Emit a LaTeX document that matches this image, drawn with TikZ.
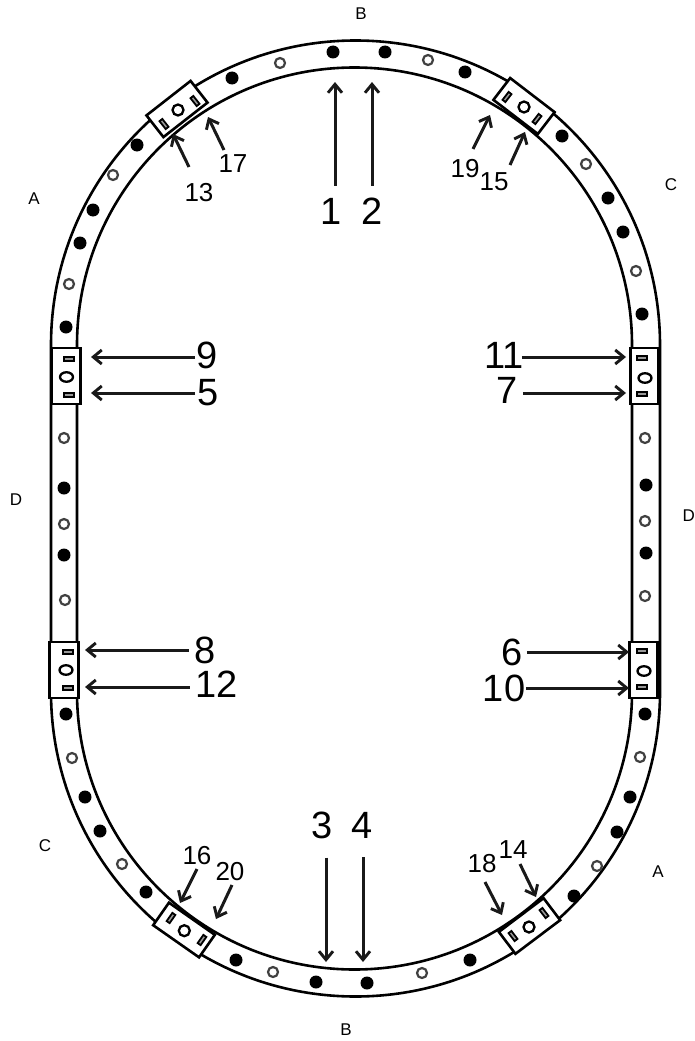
\documentclass[tikz,border=0pt]{standalone}
\usepackage{fontspec}
\setmainfont{Liberation Sans}
\usetikzlibrary{arrows.meta,shapes.geometric}
\tikzset{
  rail/.style={line width=2.6pt,black},
  seg/.style={draw=black,fill=white,line width=2.6pt,rectangle,inner sep=0pt,minimum width=56pt,minimum height=27.5pt},
  slot/.style={draw=black,fill=black!40,line width=1.8pt,rectangle,inner sep=0pt,minimum width=10pt,minimum height=3.6pt},
  hole/.style={draw=black,fill=white,line width=2.3pt,ellipse,inner sep=0pt,minimum width=13pt,minimum height=9.5pt},
  rhole/.style={hole,minimum width=11pt,minimum height=11pt},
  fdot/.style={fill=black,circle,inner sep=0pt,minimum size=13pt},
  odot/.style={draw=black!75,fill=white,line width=2.2pt,circle,inner sep=0pt,minimum size=10pt},
  arr/.style={-{Straight Barb[length=8.5pt,width=14pt,line width=2.9pt]},line width=3pt,black!90},
  big/.style={font=\fontsize{38}{38}\selectfont,inner sep=0pt},
  small/.style={font=\fontsize{26}{26}\selectfont,inner sep=0pt},
  side/.style={font=\fontsize{17}{17}\selectfont,inner sep=0pt},
}
\begin{document}
\begin{tikzpicture}[x=1pt,y=-1pt]
\useasboundingbox (0,0) rectangle (695,1041);
\fill[white] (0,0) rectangle (695,1041);
% rails
\draw[rail] (51,692) -- (51,345) arc[start angle=180,end angle=0,radius=304.5pt] -- (660,692) arc[start angle=0,end angle=-180,radius=304.5pt];
\draw[rail] (77,692) -- (77,345) arc[start angle=180,end angle=0,radius=277.5pt] -- (632,692) arc[start angle=0,end angle=-180,radius=277.5pt];
% dots
\foreach \a/\b [count=\i] in {333/52,385/52,465/72,562/136,608/198,623/232,642/314,646/485,646/553,645/714,630/797,617/832,574/896,470/960,367/983,316/982,236/960,146/892,100/831,85/797,66/714,64/555,64/488,66/327,80/243,93/210,137/145,232/78}{
  \node[fdot] (f\i) at (\a,\b) {};
}
\foreach \a/\b [count=\i] in {280/63,428/60,586/164,636/271,645/438,645/521,645/596,640/757,597/866,422/973,273/972,122/864,72/758,65/600,64/524,64/438,69/284,113/175}{
  \node[odot] (o\i) at (\a,\b) {};
}
% straight segments: name, centre, hole, slot x, slot y1, slot y2
\foreach \n/\cx/\cy/\hx/\hy/\sx/\sa/\sb in {LT/66/376/66.5/377/69/359/395,RT/644.5/376/645/378/642/358/394,LB/64/670/66/670/68/652/688,RB/643.5/670/644/671/642/651/687}{
  \node[seg,rotate=90,minimum height=28.5pt] (seg\n) at (\cx,\cy) {};
  \node[hole] (h\n) at (\hx,\hy) {};
  \node[slot] (sa\n) at (\sx,\sa) {};
  \node[slot] (sb\n) at (\sx,\sb) {};
}
% diagonal segments: name, centre, rotation, hole, slot a, slot b
\foreach \n/\cx/\cy/\r/\hx/\hy/\ax/\ay/\bx/\by in {TL/177/109/38/178/110/164/124/195/101,TR/524/106/-37.5/524/107/507/97/537/119,BL/184/930/-35/184.3/930.7/171/918/202/940,BR/529.5/926/37/529/927/513/936/544/913}{
  \node[seg,rotate=\r] (seg\n) at (\cx,\cy) {};
  \node[rhole] (h\n) at (\hx,\hy) {};
  \node[slot,rotate=\r+90] (sa\n) at (\ax,\ay) {};
  \node[slot,rotate=\r+90] (sb\n) at (\bx,\by) {};
}
% arrow tips
\coordinate (t1) at (335,82);   \coordinate (t2) at (372,82);
\coordinate (t3) at (326,962);  \coordinate (t4) at (363,962);
\coordinate (t5) at (91,393);   \coordinate (t9) at (91,357);
\coordinate (t7) at (626,393);  \coordinate (t11) at (626,357);
\coordinate (t8) at (85,650);   \coordinate (t12) at (85,687);
\coordinate (t6) at (629,652);  \coordinate (t10) at (629,688);
\coordinate (t13) at (173,134); \coordinate (t17) at (208,117);
\coordinate (t19) at (490,115); \coordinate (t15) at (525,132);
\coordinate (t16) at (180,903); \coordinate (t20) at (216,919);
\coordinate (t18) at (502,915); \coordinate (t14) at (536,897);
% big labels
\node[big] (n1) at (331,211) {1};
\node[big] (n2) at (372,211) {2};
\node[big] (n3) at (322,825) {3};
\node[big] (n4) at (362,825) {4};
\node[big] (n9) at (207.5,355) {9};
\node[big] (n5) at (208,393) {5};
\node[big] (n11) at (504,355) {11};
\node[big] (n7) at (507,390) {7};
\node[big] (n8) at (205.5,650) {8};
\node[big] (n12) at (217,684) {12};
\node[big] (n6) at (512,652) {6};
\node[big] (n10) at (504,688) {10};
% small labels
\node[small] (n13) at (199,193) {13};
\node[small] (n17) at (233,164) {17};
\node[small] (n19) at (465,169) {19};
\node[small] (n15) at (494,182) {15};
\node[small] (n16) at (197,856) {16};
\node[small] (n20) at (230,872) {20};
\node[small] (n18) at (482,864) {18};
\node[small] (n14) at (513,850) {14};
% side letters
\node[side] (sB1) at (361,14) {B};
\node[side] (sA1) at (34,199) {A};
\node[side] (sC1) at (671,185) {C};
\node[side] (sD1) at (16,500) {D};
\node[side,anchor=east] (sD2) at (695,516) {D};
\node[side] (sC2) at (45,846) {C};
\node[side] (sA2) at (658,872) {A};
\node[side] (sB2) at (346,1030) {B};
% vertical arrows
\draw[arr,shorten <=12pt] (t1 |- n1.north) -- (t1);
\draw[arr,shorten <=12pt] (t2 |- n2.north) -- (t2);
\draw[arr,shorten <=19pt] (t3 |- n3.south) -- (t3);
\draw[arr,shorten <=19pt] (t4 |- n4.south) -- (t4);
% horizontal arrows
\draw[arr,shorten <=2pt] (n9.west |- t9) -- (t9);
\draw[arr,shorten <=2pt] (n5.west |- t5) -- (t5);
\draw[arr,shorten <=6pt] (n8.west |- t8) -- (t8);
\draw[arr,shorten <=6pt] (n12.west |- t12) -- (t12);
\draw[arr,shorten <=-2pt] (n11.east |- t11) -- (t11);
\draw[arr,shorten <=5pt] (n7.east |- t7) -- (t7);
\draw[arr,shorten <=4pt] (n6.east |- t6) -- (t6);
\draw[arr,shorten <=1pt] (n10.east |- t10) -- (t10);
% diagonal arrows
\draw[arr] ([shift={(-10,-26)}]n13.center) -- (t13);
\draw[arr] ([shift={(-9,-14)}]n17.center) -- (t17);
\draw[arr] ([shift={(8,-20)}]n19.center) -- (t19);
\draw[arr] ([shift={(16,-17)}]n15.center) -- (t15);
\draw[arr] ([shift={(0,13)}]n16.center) -- (t16);
\draw[arr] ([shift={(2,13)}]n20.center) -- (t20);
\draw[arr] ([shift={(3,18)}]n18.center) -- (t18);
\draw[arr] ([shift={(7,14)}]n14.center) -- (t14);
\end{tikzpicture}
\end{document}
